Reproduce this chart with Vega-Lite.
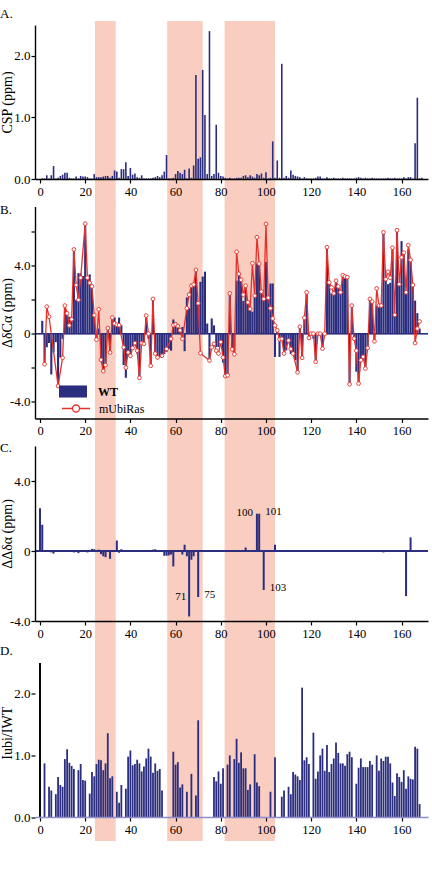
{
"$schema": "https://vega.github.io/schema/vega-lite/v6.json",
"background": "white",
"padding": {"left": 0, "top": 7, "right": 0, "bottom": 0},
"datasets": {
"bands": [{"s": 24.3, "e": 33.5}, {"s": 56.3, "e": 72.0}, {"s": 81.7, "e": 104.0}],
"a": [{"r":1,"v":0.01},{"r":2,"v":0.01},{"r":3,"v":0.06},{"r":4,"v":0.01},{"r":5,"v":0.06},{"r":6,"v":0.21},{"r":7,"v":0.01},{"r":8,"v":0.02},{"r":9,"v":0.05},{"r":10,"v":0.07},{"r":11,"v":0.10},{"r":12,"v":0.10},{"r":13,"v":0.02},{"r":14,"v":0.01},{"r":15,"v":0.01},{"r":16,"v":0.04},{"r":17,"v":0.01},{"r":18,"v":0.05},{"r":19,"v":0.04},{"r":20,"v":0.04},{"r":21,"v":0.03},{"r":22,"v":0.01},{"r":23,"v":0.01},{"r":24,"v":0.08},{"r":25,"v":0.03},{"r":26,"v":0.03},{"r":27,"v":0.03},{"r":28,"v":0.04},{"r":29,"v":0.05},{"r":30,"v":0.05},{"r":31,"v":0.02},{"r":32,"v":0.05},{"r":33,"v":0.14},{"r":34,"v":0.12},{"r":35,"v":0.02},{"r":36,"v":0.16},{"r":37,"v":0.16},{"r":38,"v":0.27},{"r":39,"v":0.05},{"r":40,"v":0.18},{"r":41,"v":0.07},{"r":42,"v":0.09},{"r":43,"v":0.03},{"r":44,"v":0.02},{"r":45,"v":0.06},{"r":46,"v":0.01},{"r":47,"v":0.01},{"r":48,"v":0.01},{"r":49,"v":0.01},{"r":50,"v":0.02},{"r":51,"v":0.03},{"r":52,"v":0.05},{"r":53,"v":0.03},{"r":54,"v":0.06},{"r":55,"v":0.12},{"r":56,"v":0.39},{"r":57,"v":0.01},{"r":58,"v":0.01},{"r":59,"v":0.02},{"r":60,"v":0.08},{"r":61,"v":0.13},{"r":62,"v":0.10},{"r":63,"v":0.08},{"r":64,"v":0.15},{"r":65,"v":0.01},{"r":66,"v":0.17},{"r":67,"v":0.02},{"r":68,"v":0.22},{"r":69,"v":1.69},{"r":70,"v":0.33},{"r":71,"v":0.35},{"r":72,"v":1.77},{"r":73,"v":1.04},{"r":74,"v":0.08},{"r":75,"v":2.40},{"r":76,"v":0.05},{"r":77,"v":0.08},{"r":78,"v":0.88},{"r":79,"v":0.10},{"r":80,"v":0.05},{"r":81,"v":0.04},{"r":82,"v":0.02},{"r":83,"v":0.01},{"r":84,"v":0.02},{"r":85,"v":0.01},{"r":86,"v":0.01},{"r":87,"v":0.02},{"r":88,"v":0.02},{"r":89,"v":0.02},{"r":90,"v":0.05},{"r":91,"v":0.06},{"r":92,"v":0.03},{"r":93,"v":0.06},{"r":94,"v":0.04},{"r":95,"v":0.02},{"r":96,"v":0.08},{"r":97,"v":0.06},{"r":98,"v":0.09},{"r":99,"v":0.02},{"r":100,"v":0.11},{"r":101,"v":0.01},{"r":102,"v":0.02},{"r":103,"v":0.61},{"r":104,"v":0.02},{"r":105,"v":0.30},{"r":106,"v":0.02},{"r":107,"v":1.87},{"r":108,"v":0.02},{"r":109,"v":0.05},{"r":110,"v":0.02},{"r":111,"v":0.14},{"r":112,"v":0.07},{"r":113,"v":0.05},{"r":114,"v":0.04},{"r":115,"v":0.03},{"r":116,"v":0.01},{"r":117,"v":0.03},{"r":118,"v":0.01},{"r":119,"v":0.01},{"r":120,"v":0.01},{"r":121,"v":0.01},{"r":122,"v":0.02},{"r":123,"v":0.04},{"r":124,"v":0.04},{"r":125,"v":0.01},{"r":126,"v":0.01},{"r":127,"v":0.03},{"r":128,"v":0.01},{"r":129,"v":0.01},{"r":130,"v":0.02},{"r":131,"v":0.01},{"r":132,"v":0.01},{"r":133,"v":0.01},{"r":134,"v":0.02},{"r":135,"v":0.01},{"r":136,"v":0.01},{"r":137,"v":0.01},{"r":138,"v":0.01},{"r":139,"v":0.01},{"r":140,"v":0.02},{"r":141,"v":0.03},{"r":142,"v":0.02},{"r":143,"v":0.01},{"r":144,"v":0.02},{"r":145,"v":0.01},{"r":146,"v":0.01},{"r":147,"v":0.02},{"r":148,"v":0.01},{"r":149,"v":0.01},{"r":150,"v":0.01},{"r":151,"v":0.01},{"r":152,"v":0.01},{"r":153,"v":0.01},{"r":154,"v":0.02},{"r":155,"v":0.01},{"r":156,"v":0.01},{"r":157,"v":0.02},{"r":158,"v":0.01},{"r":159,"v":0.01},{"r":160,"v":0.01},{"r":161,"v":0.03},{"r":162,"v":0.01},{"r":163,"v":0.03},{"r":164,"v":0.03},{"r":165,"v":0.01},{"r":166,"v":0.58},{"r":167,"v":1.32},{"r":168,"v":0.01},{"r":169,"v":0.02}],
"wt": [{"r":1,"v":0.76},{"r":2,"v":-1.75},{"r":3,"v":-0.8},{"r":4,"v":-0.55},{"r":5,"v":-2.4},{"r":6,"v":-1.1},{"r":7,"v":-0.5},{"r":8,"v":-3.08},{"r":9,"v":-1.4},{"r":10,"v":-0.3},{"r":11,"v":1.66},{"r":12,"v":1.3},{"r":13,"v":1.0},{"r":14,"v":0.9},{"r":15,"v":4.97},{"r":16,"v":2.0},{"r":17,"v":3.57},{"r":18,"v":3.55},{"r":19,"v":3.4},{"r":20,"v":6.49},{"r":21,"v":3.4},{"r":22,"v":3.5},{"r":23,"v":2.79},{"r":24,"v":1.09},{"r":25,"v":-0.35},{"r":26,"v":0.3},{"r":27,"v":-1.54},{"r":28,"v":-2.28},{"r":29,"v":-1.85},{"r":30,"v":0.33},{"r":31,"v":-1.11},{"r":32,"v":1.0},{"r":33,"v":0.95},{"r":34,"v":0.5},{"r":35,"v":0.95},{"r":36,"v":0.5},{"r":37,"v":-1.85},{"r":38,"v":-2.6},{"r":39,"v":-1.27},{"r":40,"v":-1.27},{"r":41,"v":-0.84},{"r":42,"v":-0.55},{"r":43,"v":-1.17},{"r":44,"v":-2.6},{"r":45,"v":-0.55},{"r":46,"v":-0.6},{"r":47,"v":1.07},{"r":48,"v":-0.3},{"r":49,"v":-1.89},{"r":50,"v":2.05},{"r":51,"v":-1.2},{"r":52,"v":-1.5},{"r":53,"v":-1.4},{"r":54,"v":-1.4},{"r":55,"v":-1.2},{"r":56,"v":-1.07},{"r":57,"v":-0.9},{"r":58,"v":-1.0},{"r":59,"v":0.84},{"r":60,"v":0.68},{"r":61,"v":0.4},{"r":62,"v":0.2},{"r":63,"v":0.4},{"r":64,"v":-1.03},{"r":65,"v":2.14},{"r":66,"v":1.5},{"r":67,"v":2.83},{"r":68,"v":2.9},{"r":69,"v":3.76},{"r":70,"v":1.8},{"r":71,"v":3.06},{"r":72,"v":3.37},{"r":73,"v":3.66},{"r":74,"v":0.6},{"r":75,"v":-1.58},{"r":76,"v":0.9},{"r":77,"v":0.49},{"r":78,"v":-0.78},{"r":79,"v":-0.78},{"r":80,"v":-0.49},{"r":81,"v":-1.7},{"r":82,"v":-2.5},{"r":83,"v":-2.4},{"r":84,"v":2.38},{"r":85,"v":-0.92},{"r":86,"v":-1.21},{"r":87,"v":3.12},{"r":88,"v":3.53},{"r":89,"v":3.18},{"r":90,"v":1.93},{"r":91,"v":2.83},{"r":92,"v":1.85},{"r":93,"v":1.46},{"r":94,"v":1.3},{"r":95,"v":2.24},{"r":96,"v":4.13},{"r":97,"v":4.13},{"r":98,"v":2.48},{"r":99,"v":2.05},{"r":100,"v":4.23},{"r":101,"v":2.12},{"r":102,"v":2.96},{"r":103,"v":2.96},{"r":104,"v":-1.37},{"r":105,"v":0.2},{"r":106,"v":-1.37},{"r":107,"v":-0.33},{"r":108,"v":-1.17},{"r":109,"v":-0.98},{"r":110,"v":-0.4},{"r":111,"v":-1.2},{"r":112,"v":-1.2},{"r":113,"v":-1.56},{"r":114,"v":-2.3},{"r":115,"v":0.39},{"r":116,"v":-1.46},{"r":117,"v":0.97},{"r":118,"v":2.44},{"r":119,"v":-0.23},{"r":120,"v":0.02},{"r":121,"v":-0.3},{"r":122,"v":-1.66},{"r":123,"v":0.02},{"r":124,"v":0.02},{"r":125,"v":-0.88},{"r":126,"v":0.02},{"r":127,"v":5.13},{"r":128,"v":3.02},{"r":129,"v":2.38},{"r":130,"v":2.38},{"r":131,"v":3.12},{"r":132,"v":2.79},{"r":133,"v":2.44},{"r":134,"v":3.45},{"r":135,"v":3.37},{"r":136,"v":3.35},{"r":137,"v":-2.98},{"r":138,"v":1.66},{"r":139,"v":-0.29},{"r":140,"v":-2.24},{"r":141,"v":-2.94},{"r":142,"v":-1.56},{"r":143,"v":-1.36},{"r":144,"v":-2.05},{"r":145,"v":-0.84},{"r":146,"v":2.05},{"r":147,"v":1.89},{"r":148,"v":-0.45},{"r":149,"v":1.66},{"r":150,"v":1.66},{"r":151,"v":1.66},{"r":152,"v":5.98},{"r":153,"v":3.22},{"r":154,"v":2.92},{"r":155,"v":3.0},{"r":156,"v":5.07},{"r":157,"v":1.11},{"r":158,"v":6.1},{"r":159,"v":2.92},{"r":160,"v":5.46},{"r":161,"v":4.78},{"r":162,"v":2.44},{"r":163,"v":4.97},{"r":164,"v":4.35},{"r":165,"v":2.87},{"r":166,"v":1.95},{"r":167,"v":1.21},{"r":168,"v":0.3}],
"mubi": [{"r":2,"v":-1.8},{"r":3,"v":1.6},{"r":4,"v":1.0},{"r":8,"v":-3.08},{"r":10,"v":-1.42},{"r":11,"v":1.66},{"r":12,"v":1.2},{"r":13,"v":0.49},{"r":14,"v":0.85},{"r":15,"v":4.97},{"r":16,"v":2.87},{"r":17,"v":1.99},{"r":18,"v":3.3},{"r":20,"v":6.49},{"r":21,"v":3.3},{"r":22,"v":3.0},{"r":23,"v":2.79},{"r":24,"v":1.09},{"r":25,"v":-0.35},{"r":26,"v":1.44},{"r":27,"v":-1.54},{"r":28,"v":-2.2},{"r":29,"v":-1.85},{"r":30,"v":0.33},{"r":31,"v":-1.11},{"r":32,"v":0.95},{"r":33,"v":0.6},{"r":34,"v":0.53},{"r":35,"v":0.5},{"r":37,"v":-0.8},{"r":38,"v":-2.0},{"r":39,"v":-1.1},{"r":40,"v":-1.3},{"r":41,"v":-0.84},{"r":42,"v":-0.55},{"r":43,"v":-1.0},{"r":44,"v":-2.6},{"r":45,"v":-0.55},{"r":46,"v":-0.6},{"r":47,"v":1.07},{"r":48,"v":0.0},{"r":49,"v":-1.89},{"r":50,"v":2.05},{"r":51,"v":-1.17},{"r":52,"v":-1.4},{"r":54,"v":-1.3},{"r":56,"v":-0.9},{"r":58,"v":-0.3},{"r":59,"v":0.5},{"r":60,"v":0.55},{"r":61,"v":0.45},{"r":62,"v":0.2},{"r":63,"v":-0.3},{"r":65,"v":1.5},{"r":66,"v":2.3},{"r":67,"v":2.83},{"r":68,"v":2.9},{"r":69,"v":3.76},{"r":70,"v":1.8},{"r":71,"v":-1.15},{"r":75,"v":-1.58},{"r":76,"v":-0.8},{"r":77,"v":-0.6},{"r":78,"v":-1.0},{"r":79,"v":-1.17},{"r":80,"v":-0.49},{"r":81,"v":-1.4},{"r":82,"v":-2.5},{"r":83,"v":-2.45},{"r":84,"v":2.38},{"r":85,"v":-0.92},{"r":86,"v":-1.21},{"r":87,"v":4.83},{"r":88,"v":3.53},{"r":89,"v":3.18},{"r":90,"v":2.3},{"r":91,"v":2.83},{"r":92,"v":1.85},{"r":93,"v":1.46},{"r":94,"v":4.15},{"r":95,"v":2.24},{"r":96,"v":5.69},{"r":97,"v":4.13},{"r":98,"v":2.48},{"r":99,"v":2.05},{"r":100,"v":6.47},{"r":101,"v":2.12},{"r":102,"v":1.5},{"r":103,"v":0.9},{"r":104,"v":0.49},{"r":105,"v":0.2},{"r":106,"v":-0.33},{"r":107,"v":-0.3},{"r":108,"v":-1.17},{"r":110,"v":-0.4},{"r":111,"v":-0.9},{"r":112,"v":-1.17},{"r":114,"v":-2.28},{"r":115,"v":0.41},{"r":116,"v":-1.42},{"r":117,"v":0.94},{"r":118,"v":2.44},{"r":119,"v":-0.25},{"r":120,"v":0},{"r":121,"v":0},{"r":122,"v":-1.66},{"r":123,"v":0},{"r":124,"v":0},{"r":125,"v":-0.88},{"r":126,"v":0},{"r":127,"v":5.1},{"r":128,"v":3.02},{"r":129,"v":2.73},{"r":130,"v":2.38},{"r":131,"v":3.12},{"r":132,"v":2.79},{"r":133,"v":2.44},{"r":134,"v":3.45},{"r":135,"v":3.37},{"r":136,"v":3.33},{"r":137,"v":-2.98},{"r":138,"v":1.66},{"r":139,"v":-0.29},{"r":140,"v":-1.0},{"r":141,"v":-2.94},{"r":142,"v":-1.56},{"r":143,"v":-1.36},{"r":144,"v":-2.05},{"r":145,"v":-0.84},{"r":146,"v":2.05},{"r":147,"v":1.89},{"r":148,"v":-0.45},{"r":149,"v":2.67},{"r":150,"v":1.66},{"r":151,"v":1.66},{"r":152,"v":5.98},{"r":153,"v":3.22},{"r":154,"v":3.65},{"r":155,"v":3.3},{"r":156,"v":5.07},{"r":157,"v":1.11},{"r":158,"v":6.1},{"r":159,"v":2.92},{"r":160,"v":4.5},{"r":161,"v":4.78},{"r":162,"v":2.44},{"r":163,"v":5.22},{"r":164,"v":4.35},{"r":165,"v":2.87},{"r":166,"v":-0.55},{"r":167,"v":0.3},{"r":168,"v":0.72}],
"c": [{"r":0,"v":2.45},{"r":1,"v":1.5},{"r":2,"v":0.02},{"r":3,"v":-0.03},{"r":4,"v":-0.02},{"r":5,"v":-0.08},{"r":6,"v":-0.15},{"r":7,"v":-0.04},{"r":8,"v":-0.05},{"r":9,"v":-0.04},{"r":10,"v":-0.05},{"r":11,"v":-0.04},{"r":12,"v":-0.05},{"r":13,"v":-0.04},{"r":14,"v":-0.06},{"r":15,"v":-0.08},{"r":16,"v":-0.05},{"r":17,"v":-0.12},{"r":18,"v":-0.04},{"r":19,"v":-0.04},{"r":20,"v":-0.05},{"r":21,"v":-0.08},{"r":22,"v":-0.04},{"r":23,"v":0.12},{"r":24,"v":0.1},{"r":25,"v":0.05},{"r":26,"v":0.08},{"r":27,"v":-0.18},{"r":28,"v":-0.3},{"r":29,"v":-0.35},{"r":30,"v":0.02},{"r":31,"v":-0.45},{"r":32,"v":-0.05},{"r":33,"v":-0.04},{"r":34,"v":0.6},{"r":35,"v":-0.1},{"r":36,"v":0.1},{"r":37,"v":-0.03},{"r":38,"v":-0.04},{"r":39,"v":-0.04},{"r":40,"v":-0.05},{"r":41,"v":-0.04},{"r":42,"v":-0.04},{"r":43,"v":-0.05},{"r":44,"v":-0.04},{"r":45,"v":-0.04},{"r":46,"v":-0.04},{"r":47,"v":-0.03},{"r":48,"v":0.05},{"r":49,"v":-0.03},{"r":50,"v":0.08},{"r":51,"v":0.1},{"r":52,"v":-0.03},{"r":53,"v":-0.03},{"r":54,"v":-0.03},{"r":55,"v":-0.27},{"r":56,"v":-0.27},{"r":57,"v":-0.25},{"r":58,"v":-0.2},{"r":59,"v":-0.88},{"r":60,"v":-0.05},{"r":61,"v":-0.05},{"r":62,"v":-0.05},{"r":63,"v":-0.2},{"r":64,"v":0.36},{"r":65,"v":-0.3},{"r":66,"v":-3.74,"lab":"71"},{"r":67,"v":-0.5},{"r":68,"v":-0.3},{"r":69,"v":-0.05},{"r":70,"v":-2.63,"lab":"75"},{"r":71,"v":-0.03},{"r":72,"v":0.04},{"r":73,"v":-0.04},{"r":74,"v":-0.04},{"r":75,"v":-0.05},{"r":76,"v":-0.04},{"r":77,"v":-0.04},{"r":78,"v":-0.04},{"r":79,"v":-0.05},{"r":80,"v":-0.04},{"r":81,"v":-0.04},{"r":82,"v":-0.05},{"r":83,"v":-0.04},{"r":84,"v":-0.04},{"r":85,"v":-0.04},{"r":86,"v":-0.05},{"r":87,"v":-0.04},{"r":88,"v":-0.04},{"r":89,"v":0.03},{"r":90,"v":-0.05},{"r":91,"v":0.2},{"r":92,"v":-0.05},{"r":93,"v":-0.04},{"r":94,"v":-0.04},{"r":95,"v":-0.05},{"r":96,"v":2.13,"lab":"100"},{"r":97,"v":2.13,"lab":"101"},{"r":98,"v":-0.04},{"r":99,"v":-2.23,"lab":"103"},{"r":100,"v":-0.04},{"r":101,"v":-0.04},{"r":102,"v":-0.04},{"r":103,"v":-0.04},{"r":104,"v":0.36},{"r":105,"v":-0.04},{"r":106,"v":-0.05},{"r":107,"v":-0.04},{"r":108,"v":-0.04},{"r":109,"v":-0.05},{"r":110,"v":-0.04},{"r":111,"v":-0.04},{"r":112,"v":-0.04},{"r":113,"v":-0.05},{"r":114,"v":-0.04},{"r":115,"v":-0.04},{"r":116,"v":-0.04},{"r":117,"v":-0.05},{"r":118,"v":-0.04},{"r":119,"v":-0.04},{"r":120,"v":-0.04},{"r":121,"v":-0.05},{"r":122,"v":-0.04},{"r":123,"v":-0.04},{"r":124,"v":-0.05},{"r":125,"v":-0.04},{"r":126,"v":-0.04},{"r":127,"v":-0.04},{"r":128,"v":-0.05},{"r":129,"v":-0.04},{"r":130,"v":-0.04},{"r":131,"v":-0.04},{"r":132,"v":0.05},{"r":133,"v":-0.04},{"r":134,"v":-0.05},{"r":135,"v":-0.04},{"r":136,"v":-0.04},{"r":137,"v":0.04},{"r":138,"v":-0.04},{"r":139,"v":-0.05},{"r":140,"v":-0.04},{"r":141,"v":-0.04},{"r":142,"v":-0.04},{"r":143,"v":-0.05},{"r":144,"v":-0.04},{"r":145,"v":-0.04},{"r":146,"v":-0.04},{"r":147,"v":-0.05},{"r":148,"v":-0.04},{"r":149,"v":-0.04},{"r":150,"v":-0.04},{"r":151,"v":-0.05},{"r":152,"v":-0.08},{"r":153,"v":-0.04},{"r":154,"v":-0.04},{"r":155,"v":-0.05},{"r":156,"v":-0.04},{"r":157,"v":-0.04},{"r":158,"v":-0.04},{"r":159,"v":-0.05},{"r":160,"v":-0.04},{"r":161,"v":-0.04},{"r":162,"v":-2.58},{"r":163,"v":-0.04},{"r":164,"v":0.78},{"r":165,"v":-0.04},{"r":166,"v":-0.04}],
"d": [{"r":2,"v":0.87},{"r":4,"v":0.49},{"r":5,"v":0.43},{"r":7,"v":0.37},{"r":8,"v":0.65},{"r":9,"v":0.52},{"r":10,"v":0.49},{"r":11,"v":0.94},{"r":12,"v":1.10},{"r":13,"v":0.88},{"r":14,"v":0.83},{"r":15,"v":0.78},{"r":17,"v":0.76},{"r":18,"v":0.86},{"r":19,"v":0.60},{"r":20,"v":0.59},{"r":22,"v":0.38},{"r":23,"v":0.73},{"r":24,"v":0.66},{"r":25,"v":0.86},{"r":26,"v":0.93},{"r":27,"v":0.92},{"r":28,"v":0.76},{"r":29,"v":0.87},{"r":30,"v":1.36},{"r":31,"v":0.63},{"r":32,"v":0.66},{"r":34,"v":0.41},{"r":35,"v":0.23},{"r":36,"v":0.52},{"r":38,"v":0.46},{"r":39,"v":0.98},{"r":40,"v":1.08},{"r":41,"v":0.84},{"r":42,"v":0.86},{"r":43,"v":0.93},{"r":44,"v":0.87},{"r":45,"v":0.74},{"r":46,"v":0.82},{"r":47,"v":0.95},{"r":48,"v":1.11},{"r":49,"v":0.98},{"r":50,"v":0.72},{"r":51,"v":0.87},{"r":52,"v":0.75},{"r":53,"v":0.78},{"r":54,"v":0.43},{"r":59,"v":1.06},{"r":60,"v":0.85},{"r":61,"v":0.89},{"r":62,"v":0.48},{"r":63,"v":0.53},{"r":65,"v":0.41},{"r":67,"v":0.70},{"r":69,"v":0.35},{"r":70,"v":1.57},{"r":77,"v":0.65},{"r":78,"v":0.58},{"r":79,"v":0.74},{"r":80,"v":0.54},{"r":81,"v":0.79},{"r":83,"v":0.85},{"r":84,"v":1.00},{"r":86,"v":0.94},{"r":87,"v":1.27},{"r":88,"v":0.88},{"r":89,"v":1.05},{"r":90,"v":0.79},{"r":91,"v":0.79},{"r":92,"v":0.44},{"r":93,"v":0.53},{"r":95,"v":1.02},{"r":96,"v":0.56},{"r":97,"v":0.50},{"r":102,"v":0.41},{"r":104,"v":0.97},{"r":107,"v":0.33},{"r":108,"v":0.43},{"r":110,"v":0.49},{"r":111,"v":0.37},{"r":112,"v":0.73},{"r":113,"v":0.69},{"r":114,"v":0.66},{"r":115,"v":0.60},{"r":116,"v":2.10},{"r":117,"v":0.92},{"r":118,"v":0.97},{"r":119,"v":0.86},{"r":121,"v":1.37},{"r":122,"v":0.62},{"r":123,"v":0.74},{"r":124,"v":1.00},{"r":125,"v":1.11},{"r":126,"v":0.75},{"r":127,"v":1.17},{"r":128,"v":0.73},{"r":129,"v":0.86},{"r":130,"v":0.95},{"r":131,"v":1.21},{"r":132,"v":1.04},{"r":133,"v":0.87},{"r":134,"v":0.87},{"r":135,"v":0.83},{"r":136,"v":1.02},{"r":137,"v":1.06},{"r":138,"v":0.97},{"r":140,"v":0.54},{"r":141,"v":0.80},{"r":142,"v":0.95},{"r":143,"v":0.81},{"r":144,"v":0.81},{"r":145,"v":0.81},{"r":146,"v":0.91},{"r":147,"v":0.85},{"r":149,"v":1.00},{"r":150,"v":0.75},{"r":151,"v":0.95},{"r":152,"v":0.91},{"r":153,"v":0.98},{"r":154,"v":0.98},{"r":155,"v":0.87},{"r":156,"v":0.56},{"r":157,"v":0.34},{"r":158,"v":0.71},{"r":159,"v":0.65},{"r":160,"v":0.57},{"r":161,"v":0.76},{"r":162,"v":0.46},{"r":163,"v":0.66},{"r":164,"v":0.62},{"r":165,"v":0.61},{"r":166,"v":1.14},{"r":167,"v":1.11},{"r":168,"v":0.21}]
},
"bounds": "flush",
"spacing": 27.5,
"resolve": {"scale": {"fill": "independent", "stroke": "independent"}},
"vconcat": [
{
"width": 393, "height": 154,
"title": {"text": "A.", "offset": 0},
"layer": [
{"data": {"name": "bands"}, "mark": {"type": "rect", "color": "#f9cdbf"},
 "encoding": {"x": {"field": "s", "type": "quantitative"}, "x2": {"field": "e"}, "y": {"datum": 2.565}, "y2": {"datum": -0.47}}},
{"data": {"name": "a"}, "mark": {"type": "bar", "orient": "vertical", "color": "#2b2d7e", "size": 1.6},
 "encoding": {
  "x": {"field": "r", "type": "quantitative", "scale": {"domain": [0, 169.5], "nice": false, "zero": false},
        "axis": {"title": null, "zindex": 1, "values": [0,10,20,30,40,50,60,70,80,90,100,110,120,130,140,150,160], "labelExpr": "datum.value % 20 === 0 ? datum.label : ''"}},
  "y": {"field": "v", "type": "quantitative", "scale": {"domain": [0, 2.5], "nice": false},
        "axis": {"title": "CSP (ppm)", "zindex": 1, "titleX": -21, "values": [0,0.25,0.5,0.75,1,1.25,1.5,1.75,2,2.25,2.5], "labelExpr": "(datum.value * 2) % 1 === 0 ? format(datum.value, '.1f') : ''"}}
 }}
]
},
{
"width": 393, "height": 212,
"title": {"text": "B.", "offset": -10.5},
"layer": [
{"data": {"name": "bands"}, "mark": {"type": "rect", "color": "#f9cdbf"},
 "encoding": {"x": {"field": "s", "type": "quantitative"}, "x2": {"field": "e"}, "y": {"datum": 7.5}, "y2": {"datum": -6.65}}},
{"data": {"name": "bands"}, "mark": {"type": "rule", "color": "#2b2d7e", "strokeWidth": 1.3}, "encoding": {"y": {"datum": 0}}},
{"data": {"name": "wt"}, "mark": {"type": "bar", "orient": "vertical", "size": 2.1},
 "encoding": {
  "x": {"field": "r", "type": "quantitative", "scale": {"domain": [0, 169.5], "nice": false, "zero": false},
        "axis": {"title": null, "zindex": 1, "values": [0,10,20,30,40,50,60,70,80,90,100,110,120,130,140,150,160], "labelExpr": "datum.value % 20 === 0 ? datum.label : ''"}},
  "y": {"field": "v", "type": "quantitative", "scale": {"domain": [-5, 7.5], "nice": false, "zero": false},
        "axis": {"title": "ΔδCα (ppm)", "zindex": 1, "titleX": -21, "values": [-4,-2,0,2,4,6], "labelExpr": "datum.value === 0 ? '0' : (datum.value % 4 === 0 ? (datum.value < 0 ? '-' : '') + format(abs(datum.value), '.1f') : '')"}},
  "fill": {"datum": "WT", "scale": {"domain": ["WT"], "range": ["#2b2d7e"]},
        "legend": {"title": null, "orient": "none", "legendX": 24, "legendY": 171, "padding": 0, "symbolSize": 784, "labelOffset": 11, "labelFont": "Liberation Serif", "labelFontSize": 12, "labelFontWeight": "bold", "labelColor": "black", "symbolType": "M-1,-0.43H1V0.43H-1Z", "symbolStrokeWidth": 0}}
 }},
{"data": {"name": "mubi"}, "mark": {"type": "line", "strokeWidth": 1.3, "point": {"filled": false, "fill": "white", "size": 14, "strokeWidth": 0.9}},
 "encoding": {
  "x": {"field": "r", "type": "quantitative"},
  "y": {"field": "v", "type": "quantitative"},
  "stroke": {"datum": "mUbiRas", "scale": {"domain": ["mUbiRas"], "range": ["#e8302a"]},
        "legend": {"title": null, "orient": "none", "legendX": 26, "legendY": 187, "padding": 0, "symbolSize": 784, "labelOffset": 8, "labelFont": "Liberation Serif", "labelFontSize": 12, "labelColor": "black", "symbolType": "M-1,0H-0.25M0.25,0H1M0.25,0A0.25,0.25 0 1 1 -0.25,0A0.25,0.25 0 1 1 0.25,0", "symbolFillColor": "white", "symbolStrokeWidth": 1.3}}
 }}
]
},
{
"width": 393, "height": 175,
"title": {"text": "C.", "offset": -9},
"layer": [
{"data": {"name": "bands"}, "mark": {"type": "rect", "color": "#f9cdbf"},
 "encoding": {"x": {"field": "s", "type": "quantitative"}, "x2": {"field": "e"}, "y": {"datum": 6}, "y2": {"datum": -5.6}}},
{"data": {"name": "bands"}, "mark": {"type": "rule", "color": "#2b2d7e", "strokeWidth": 1.3}, "encoding": {"y": {"datum": 0}}},
{"data": {"name": "c"}, "mark": {"type": "bar", "orient": "vertical", "color": "#2b2d7e", "size": 2},
 "encoding": {
  "x": {"field": "r", "type": "quantitative", "scale": {"domain": [0, 169.5], "nice": false, "zero": false},
        "axis": {"title": null, "zindex": 1, "values": [0,10,20,30,40,50,60,70,80,90,100,110,120,130,140,150,160], "labelExpr": "datum.value % 20 === 0 ? datum.label : ''"}},
  "y": {"field": "v", "type": "quantitative", "scale": {"domain": [-4, 6], "nice": false, "zero": false},
        "axis": {"title": "ΔΔδα (ppm)", "zindex": 1, "titleX": -21, "values": [-4,-3,-2,-1,0,1,2,3,4,5,6], "labelExpr": "datum.value === 0 ? '0' : (datum.value % 2 === 0 ? (datum.value < 0 ? '-' : '') + format(abs(datum.value), '.1f') : '')"}}
 }},
{"data": {"name": "c"}, "transform": [{"filter": "datum.lab === '71'"}],
 "mark": {"type": "text", "align": "right", "baseline": "middle", "dx": -3, "dy": -19, "font": "Liberation Serif", "fontSize": 11, "color": "black"},
 "encoding": {"x": {"field": "r", "type": "quantitative"}, "y": {"field": "v", "type": "quantitative"}, "text": {"field": "lab"}}},
{"data": {"name": "c"}, "transform": [{"filter": "datum.lab === '100'"}],
 "mark": {"type": "text", "align": "right", "baseline": "middle", "dx": -4, "dy": -1, "font": "Liberation Serif", "fontSize": 11, "color": "black"},
 "encoding": {"x": {"field": "r", "type": "quantitative"}, "y": {"field": "v", "type": "quantitative"}, "text": {"field": "lab"}}},
{"data": {"name": "c"}, "transform": [{"filter": "datum.lab === '75' || datum.lab === '101' || datum.lab === '103'"}],
 "mark": {"type": "text", "align": "left", "baseline": "middle", "dx": 6, "dy": -2, "font": "Liberation Serif", "fontSize": 11, "color": "black"},
 "encoding": {"x": {"field": "r", "type": "quantitative"}, "y": {"field": "v", "type": "quantitative"}, "text": {"field": "lab"}}}
]
},
{
"width": 393, "height": 168.5,
"title": {"text": "D.", "offset": -9.5},
"layer": [
{"data": {"name": "bands"}, "mark": {"type": "rect", "color": "#f9cdbf"},
 "encoding": {"x": {"field": "s", "type": "quantitative"}, "x2": {"field": "e"}, "y": {"datum": 2.7354}, "y2": {"datum": -0.39}}},
{"data": {"name": "bands"}, "mark": {"type": "rule", "color": "black", "strokeWidth": 1.4},
 "encoding": {"x": {"datum": 0}, "y": {"datum": 0}, "y2": {"datum": 2.5}}},
{"data": {"name": "d"}, "mark": {"type": "bar", "orient": "vertical", "color": "#2b2d7e", "size": 1.8},
 "encoding": {
  "x": {"field": "r", "type": "quantitative", "scale": {"domain": [0, 169.5], "nice": false, "zero": false},
        "axis": {"title": null, "zindex": 1, "domainColor": "#8f8dcc", "values": [0,10,20,30,40,50,60,70,80,90,100,110,120,130,140,150,160], "labelExpr": "datum.value % 20 === 0 ? datum.label : ''"}},
  "y": {"field": "v", "type": "quantitative", "scale": {"domain": [0, 2.7354], "nice": false},
        "axis": {"title": "Iubi/IWT", "zindex": 1, "domain": false, "titleX": -21, "values": [0,0.25,0.5,0.75,1,1.25,1.5,1.75,2,2.25,2.5], "labelExpr": "(datum.value * 2) % 1 === 0 ? format(datum.value, '.1f') : ''"}}
 }}
]
}
],
"config": {
 "view": {"stroke": null},
 "title": {"font": "Liberation Serif", "fontSize": 13, "fontWeight": "normal", "color": "black", "anchor": "start", "frame": "bounds"},
 "axis": {"labelFont": "Liberation Serif", "titleFont": "Liberation Serif", "labelFontSize": 13, "titleFontSize": 14, "titleFontWeight": "normal", "labelColor": "black", "titleColor": "black", "domainColor": "black", "tickColor": "black", "domainWidth": 1.4, "tickWidth": 1.2, "tickSize": 4, "grid": false},
 "axisX": {"labelPadding": 2, "labelFontSize": 12.5},
 "axisY": {"labelPadding": 1, "titlePadding": 0}
}
}
